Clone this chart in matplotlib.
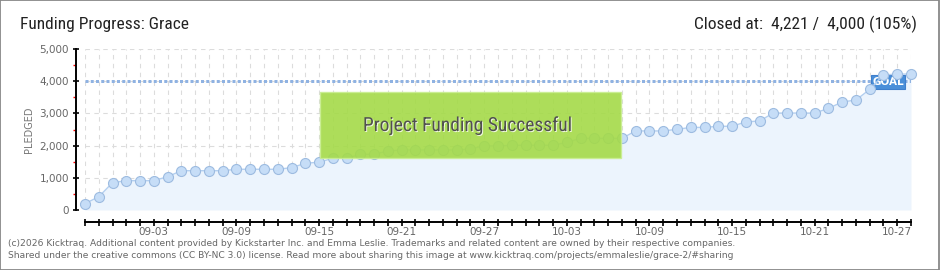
import matplotlib
matplotlib.use('Agg')
import matplotlib.pyplot as plt
from matplotlib import font_manager
from matplotlib.patches import Rectangle
import matplotlib.patheffects as pe
from matplotlib.ticker import FuncFormatter
import numpy as np
import pandas as pd

# ---------------- data ----------------
pledged = [200, 410, 850, 910, 910, 910, 1035, 1220, 1220, 1220,
           1220, 1265, 1265, 1265, 1265, 1315, 1450, 1485, 1605, 1605,
           1730, 1730, 1835, 1865, 1865, 1865, 1865, 1865, 1895, 1990,
           1990, 2010, 2010, 2010, 2010, 2100, 2225, 2225, 2225, 2225,
           2455, 2455, 2455, 2505, 2565, 2565, 2600, 2600, 2735, 2765,
           3010, 3010, 3010, 3010, 3155, 3355, 3415, 3745, 4195, 4221,
           4221]
goal = 4000
start_date = '2025-08-29'
label_every = 6
first_label = '09-03'
y_ticks = [0, 1000, 2000, 3000, 4000, 5000]
y_minor = [500, 1500, 2500, 3500, 4500]
title = 'Funding Progress: Grace'
closed_text = 'Closed at:  4,221 /  4,000 (105%)'
banner_text = 'Project Funding Successful'
goal_text = 'GOAL'
y_label = 'PLEDGED'
footer = [
    '(c)2026 Kicktraq. Additional content provided by Kickstarter Inc. and Emma Leslie. '
    'Trademarks and related content are owned by their respective companies.',
    'Shared under the creative commons (CC BY-NC 3.0) license. Read more about sharing this '
    'image at www.kicktraq.com/projects/emmaleslie/grace-2/#sharing',
]

# ---------------- fonts ----------------
avail = {f.name for f in font_manager.fontManager.ttflist}
def pick(*names):
    for n in names:
        if n in avail:
            return n
    return 'DejaVu Sans'
cond = pick('Liberation Sans Narrow', 'DejaVu Sans Condensed', 'Roboto Condensed', 'Roboto', 'Liberation Sans')

W, H = 940, 270
fig = plt.figure(figsize=(W / 100, H / 100), dpi=100)
def fx(px): return px / W
def fy(py): return 1 - py / H
PT = 72 / 100  # points per pixel

ax = fig.add_axes([fx(85), fy(210), fx(911) - fx(85), fy(49) - fy(210)])

n = len(pledged)
x = np.arange(n)
dates = pd.date_range(start_date, periods=n).strftime('%m-%d')
start_idx = list(dates).index(first_label)
major_idx = list(range(start_idx, n, label_every))

ax.set_xlim(0, n - 1)
ax.set_ylim(y_ticks[0], y_ticks[-1])

ax.fill_between(x, pledged, y_ticks[0], color='#ecf4fd', zorder=1, lw=0)
ax.axhline(goal, color='#8fb2e2', lw=3.0 * PT, linestyle=(0, (1.0, 0.75)),
           dash_capstyle='butt', zorder=2.5)
ax.plot(x, pledged, color='#b3cff0', lw=1.0, marker='o', ms=7.2, mfc='#c6ddf7',
        mec='#9dbbe0', mew=0.8, clip_on=False, zorder=4)

# grid
ax.set_xticks([x[i] for i in major_idx])
ax.set_xticklabels([dates[i] for i in major_idx])
ax.set_xticks(x, minor=True)
ax.set_yticks(y_ticks)
ax.set_yticks(y_minor, minor=True)
ax.yaxis.set_major_formatter(FuncFormatter(lambda v, p: f'{int(v):,}'))
ax.grid(which='both', axis='x', color='#dcdcdc', lw=0.8, linestyle=(0, (4, 4)), zorder=0)
ax.grid(which='major', axis='y', color='#dcdcdc', lw=0.8, linestyle=(0, (4, 4)), zorder=0)
ax.set_axisbelow(True)

for s in ['top', 'right']:
    ax.spines[s].set_visible(False)
ax.spines['left'].set_position(('outward', 9 * PT))
ax.spines['bottom'].set_position(('outward', 12 * PT))
ax.spines['left'].set_linewidth(1.4)
ax.spines['bottom'].set_linewidth(1.4)

ax.tick_params(axis='x', which='both', direction='inout', length=7 * PT, width=1.2,
               color='black', labelsize=7.5, labelcolor='#666666', pad=1)
ax.tick_params(axis='y', which='major', direction='inout', length=6 * PT, width=1.2,
               color='black', labelsize=7.5, labelcolor='#666666', pad=3)
ax.tick_params(axis='y', which='minor', direction='out', length=3 * PT, width=1.0,
               color='red')

# banner
ax.add_patch(Rectangle((0.2845, 0.321), 0.649 - 0.2845, 0.731 - 0.321,
                       transform=ax.transAxes, facecolor='#a4da48', alpha=0.9,
                       edgecolor='#c9ee92', lw=1.0, zorder=5))
ax.text(0.4637, 0.522, banner_text, transform=ax.transAxes, ha='center', va='center',
        fontsize=14, color='#505050', family=cond, zorder=6,
        path_effects=[pe.withSimplePatchShadow(offset=(0.7, -0.7), shadow_rgbFace='white', alpha=0.8)])

# goal tag
ax.add_patch(Rectangle((0.9516, 0.7516), 0.9927 - 0.9516, 0.8385 - 0.7516,
                       transform=ax.transAxes, facecolor='#4a8fd9', edgecolor='#3f7fcc',
                       lw=0.8, zorder=3, clip_on=False))
ax.text((0.9516 + 0.9927) / 2, (0.7516 + 0.8385) / 2, goal_text, transform=ax.transAxes,
        ha='center', va='center', fontsize=7.5, color='white', zorder=3.5, fontweight='bold')

# texts
fig.text(fx(29), fy(130), y_label, rotation=90, ha='center', va='center',
         fontsize=7, color='#777777')
fig.text(fx(20), fy(24), title, ha='left', va='center', fontsize=12.5,
         family=cond, color='#222222')
fig.text(fx(917), fy(24), closed_text, ha='right', va='center', fontsize=12.5,
         family=cond, color='#222222')
fig.text(fx(8), fy(243), footer[0], ha='left', va='center', fontsize=6.6, color='#666666')
fig.text(fx(8), fy(256), footer[1], ha='left', va='center', fontsize=6.6, color='#666666')

fig.patches.append(Rectangle((0, 0), 938.5 / W, 1, transform=fig.transFigure, fill=False,
                             edgecolor='#888888', lw=1.3, zorder=10))

fig.savefig('out.png', dpi=100)
